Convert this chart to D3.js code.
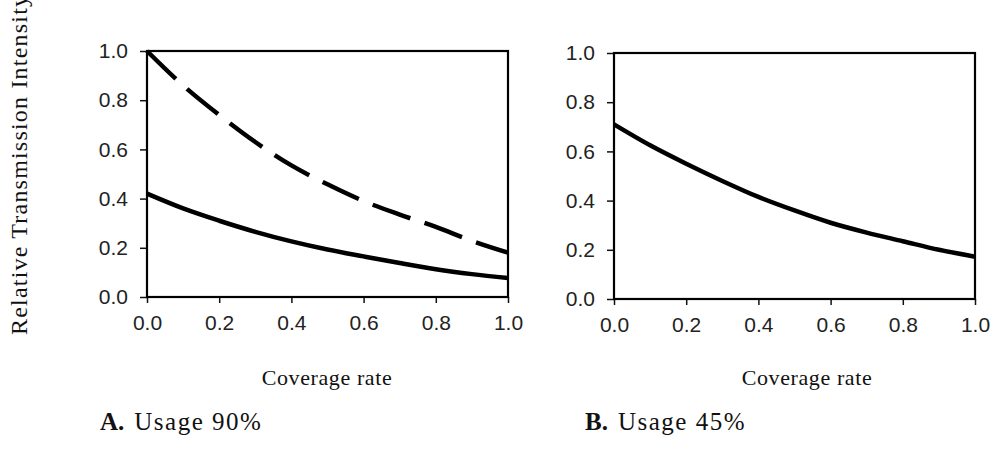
<!DOCTYPE html>
<html>
<head>
<meta charset="utf-8">
<script src="https://cdn.jsdelivr.net/npm/d3@7"></script>
<style>
	body { margin: 0; background: #fff; }
	svg { display: block; }
</style>
</head>
<body>
<div id="chart"></div>
<script>
// Data
const coverage = [0, 0.1, 0.2, 0.3, 0.4, 0.5, 0.6, 0.7, 0.8, 0.9, 1.0];
const usage90Dashed = [1.0, 0.86, 0.74, 0.63, 0.535, 0.458, 0.39, 0.335, 0.285, 0.228, 0.18];
const usage90Solid = [0.42, 0.36, 0.31, 0.265, 0.226, 0.193, 0.165, 0.138, 0.113, 0.093, 0.077];
const usage45Solid = [0.71, 0.625, 0.55, 0.48, 0.415, 0.36, 0.31, 0.27, 0.235, 0.2, 0.172];
const tickValues = [0, 0.2, 0.4, 0.6, 0.8, 1.0];

const width = 993, height = 458;
const serif = "'Liberation Serif', 'DejaVu Serif', serif";
const sans = "'Liberation Sans', Arial, sans-serif";

const svg = d3.select("#chart").append("svg")
	.attr("width", width)
	.attr("height", height);

// Panel definitions (pixel boxes)
const panels = [
	{ left: 147, right: 508, top: 51, bottom: 297, label: "A.", title: "Usage 90%", labelX: 100, xTitleX: 327,
	  series: [{ values: usage90Dashed, dash: "40,15" }, { values: usage90Solid, dash: null }] },
	{ left: 614, right: 975, top: 53, bottom: 299, label: "B.", title: "Usage 45%", labelX: 585, xTitleX: 807,
	  series: [{ values: usage45Solid, dash: null }] }
];

panels.forEach(p => {
	const x = d3.scaleLinear().domain([0, 1]).range([p.left, p.right]);
	const y = d3.scaleLinear().domain([0, 1]).range([p.bottom, p.top]);
	const g = svg.append("g");

	// x axis
	const xAxis = g.append("g")
		.attr("transform", `translate(0,${p.bottom})`)
		.call(d3.axisBottom(x).tickValues(tickValues).tickSize(6).tickSizeOuter(0).tickPadding(12).tickFormat(d3.format(".1f")));
	// y axis
	const yAxis = g.append("g")
		.attr("transform", `translate(${p.left},0)`)
		.call(d3.axisLeft(y).tickValues(tickValues).tickSize(7).tickSizeOuter(0).tickPadding(12).tickFormat(d3.format(".1f")));

	[xAxis, yAxis].forEach(a => {
		a.select(".domain").remove();
		a.selectAll(".tick line").attr("stroke", "#111").attr("stroke-width", 1.5);
		a.selectAll(".tick text")
			.style("font-family", sans)
			.style("font-size", "21px")
			.attr("fill", "#222");
	});

	// frame
	g.append("rect")
		.attr("x", p.left)
		.attr("y", p.top)
		.attr("width", p.right - p.left)
		.attr("height", p.bottom - p.top)
		.attr("fill", "none")
		.attr("stroke", "#000")
		.attr("stroke-width", 2.2);

	// curves
	const line = d3.line()
		.x((d, i) => x(coverage[i]))
		.y(d => y(d))
		.curve(d3.curveMonotoneX);

	p.series.forEach(s => {
		g.append("path")
			.datum(s.values)
			.attr("d", line)
			.attr("fill", "none")
			.attr("stroke", "#000")
			.attr("stroke-width", 4.5)
			.attr("stroke-dasharray", s.dash);
	});

	// x title
	g.append("text")
		.attr("x", p.xTitleX)
		.attr("y", 385)
		.attr("text-anchor", "middle")
		.style("font-family", serif)
		.style("font-size", "22px")
		.style("letter-spacing", "0.6px")
		.attr("fill", "#111")
		.text("Coverage rate");

	// panel caption
	const cap = g.append("text")
		.attr("x", p.labelX)
		.attr("y", 430)
		.style("font-family", serif)
		.style("font-size", "25px")
		.attr("fill", "#111");
	cap.append("tspan").style("font-weight", "bold").text(p.label);
	cap.append("tspan").attr("dx", 10).style("letter-spacing", "1.5px").text(p.title);
});

// shared y title (cut off at the top like the original)
svg.append("text")
	.attr("transform", "translate(27,335) rotate(-90)")
	.attr("text-anchor", "start")
	.style("font-family", serif)
	.style("font-size", "24px")
	.style("letter-spacing", "1.2px")
	.attr("fill", "#111")
	.text("Relative Transmission Intensity");
</script>
</body>
</html>
